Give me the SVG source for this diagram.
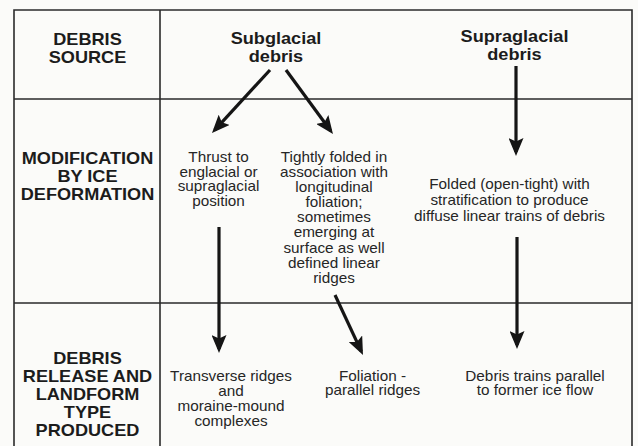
<svg xmlns="http://www.w3.org/2000/svg" width="638" height="446" viewBox="0 0 638 446">
<defs>
<style>
.grid{stroke:#2b2b2b;stroke-width:1.6;fill:none}
.arr{stroke:#151515;stroke-width:3.2;fill:none;marker-end:url(#ah)}
.h{font-family:"Liberation Sans",Arial,sans-serif;font-weight:bold;font-size:16.5px;fill:#1c1c1c;text-anchor:middle}
.t{font-family:"Liberation Sans",Arial,sans-serif;font-size:13.9px;fill:#262626;text-anchor:middle}
</style>
<marker id="ah" viewBox="0 0 18 15" refX="14" refY="7.5" markerWidth="18" markerHeight="15" markerUnits="userSpaceOnUse" orient="auto">
<path d="M0,0 L18,7.5 L0,15 L3.5,7.5 z" fill="#151515"/>
</marker>
</defs>
<rect width="638" height="446" fill="#fbfbf9"/>
<g id="table">
<path class="grid" d="M14,446 V10 H632 V446 M160,10 V446 M14,99 H632 M14,303 H632"/>
</g>
<g id="label-source" transform="translate(87.5,0) scale(1.1,1)">
<text class="h"><tspan x="0" y="45">DEBRIS</tspan><tspan x="0" y="63">SOURCE</tspan></text>
</g>
<g id="label-modification" transform="translate(87.5,0) scale(1.1,1)">
<text class="h"><tspan x="0" y="164">MODIFICATION</tspan><tspan x="0" y="182">BY ICE</tspan><tspan x="0" y="200">DEFORMATION</tspan></text>
</g>
<g id="label-release" transform="translate(87.5,0) scale(1.1,1)">
<text class="h"><tspan x="0" y="364">DEBRIS</tspan><tspan x="0" y="382">RELEASE AND</tspan><tspan x="0" y="400">LANDFORM</tspan><tspan x="0" y="418">TYPE</tspan><tspan x="0" y="436">PRODUCED</tspan></text>
</g>
<g id="subglacial" transform="translate(276,0) scale(1.1,1)">
<text class="h"><tspan x="0" y="44.5">Subglacial</tspan><tspan x="0" y="62">debris</tspan></text>
</g>
<g id="supraglacial" transform="translate(514.5,0) scale(1.1,1)">
<text class="h"><tspan x="0" y="42">Supraglacial</tspan><tspan x="0" y="60">debris</tspan></text>
</g>
<g id="thrust" transform="translate(218.5,0) scale(1.1,1)">
<text class="t"><tspan x="0" y="162">Thrust to</tspan><tspan x="0" y="176.7">englacial or</tspan><tspan x="0" y="191.4">supraglacial</tspan><tspan x="0" y="206.1">position</tspan></text>
</g>
<g id="tightly" transform="translate(334,0) scale(1.1,1)">
<text class="t"><tspan x="0" y="162.3">Tightly folded in</tspan><tspan x="0" y="177.3">association with</tspan><tspan x="0" y="192.3">longitudinal</tspan><tspan x="0" y="207.3">foliation;</tspan><tspan x="0" y="222.3">sometimes</tspan><tspan x="0" y="237.3">emerging at</tspan><tspan x="0" y="252.8">surface as well</tspan><tspan x="0" y="267.8">defined linear</tspan><tspan x="0" y="283">ridges</tspan></text>
</g>
<g id="folded" transform="translate(509.5,0) scale(1.1,1)">
<text class="t"><tspan x="0" y="189.5">Folded (open-tight) with</tspan><tspan x="0" y="205">stratification to produce</tspan><tspan x="0" y="220.6">diffuse linear trains of debris</tspan></text>
</g>
<g id="transverse" transform="translate(231,0) scale(1.1,1)">
<text class="t"><tspan x="0" y="380.7">Transverse ridges</tspan><tspan x="0" y="395.8">and</tspan><tspan x="0" y="410.8">moraine-mound</tspan><tspan x="0" y="426">complexes</tspan></text>
</g>
<g id="foliation" transform="translate(372.5,0) scale(1.1,1)">
<text class="t"><tspan x="0" y="380.7">Foliation -</tspan><tspan x="0" y="395.5">parallel ridges</tspan></text>
</g>
<g id="trains" transform="translate(535,0) scale(1.1,1)">
<text class="t"><tspan x="0" y="380.7">Debris trains parallel</tspan><tspan x="0" y="395.5">to former ice flow</tspan></text>
</g>
<g id="connectors">
<line class="arr" x1="270" y1="70" x2="214.7" y2="130.1"/>
<line class="arr" x1="286" y1="70" x2="330.6" y2="130.8"/>
<line class="arr" x1="516" y1="66" x2="516" y2="152"/>
<line class="arr" x1="219" y1="227" x2="219" y2="349"/>
<line class="arr" x1="335" y1="295" x2="361.3" y2="351.4"/>
<line class="arr" x1="517" y1="237" x2="517" y2="345"/>
</g>
</svg>
